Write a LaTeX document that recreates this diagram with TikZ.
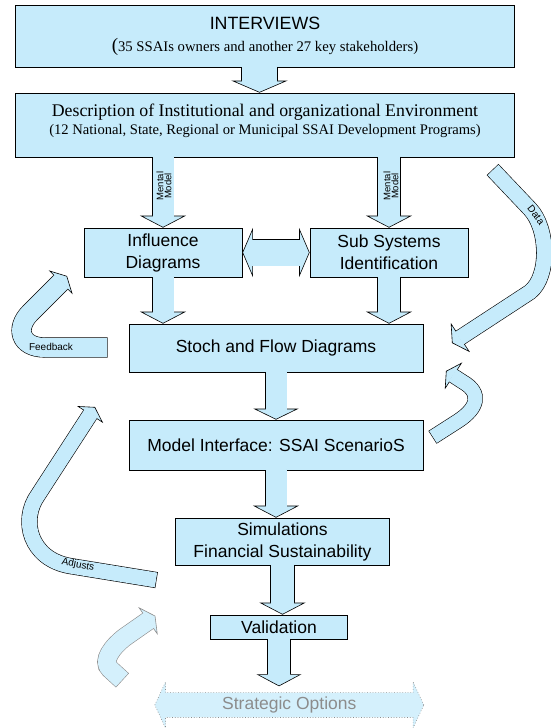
\documentclass[tikz,border=0pt]{standalone}
\usepackage{fontspec}
\setmainfont{Liberation Serif}
\setsansfont{Liberation Sans}
\usetikzlibrary{arrows.meta,shapes.arrows}
\definecolor{boxfill}{RGB}{198,235,251}
\colorlet{edge}{black}

\begin{document}
\begin{tikzpicture}[x=1pt, y=-1pt]

\tikzstyle{every node} = [rectangle, draw, line width=0.7pt, fill=boxfill, inner sep=0pt, align=center, font=\sffamily\fontsize{17.5}{22}\selectfont]
\tikzstyle{lbl} = [draw=none, fill=none, font=\sffamily\fontsize{10}{10}\selectfont]
\tikzset{fat/.style n args={3}{draw=boxfill, line width=#1, line join=round, shorten >=#3-1.2pt,
    preaction={draw=edge, line width=#1+1.2pt, shorten <=-0.6pt, shorten >=0pt,
      -{Triangle[length=#3, width=#2, line width=0.6pt, fill=boxfill]}}},
  fatboth/.style n args={3}{draw=boxfill, line width=#1, shorten >=#3-1.2pt, shorten <=#3-1.2pt,
    preaction={draw=edge, line width=#1+1.2pt, shorten <=0pt, shorten >=0pt,
      {Triangle[length=#3, width=#2, line width=0.6pt, fill=boxfill]}-{Triangle[length=#3, width=#2, line width=0.6pt, fill=boxfill]}}}}

\useasboundingbox (0,0) rectangle (550,728);

\node[minimum width=499pt, minimum height=62pt] (int) at (265,36) {{\fontsize{17.8}{21}\selectfont INTERVIEWS}\\{\rmfamily\fontsize{14.7}{16}\selectfont{\fontsize{19}{16}\selectfont(}35 SSAIs owners and another 27 key stakeholders)\rule[-3pt]{0pt}{0pt}}};
\node[minimum width=499pt, minimum height=64pt, font=\rmfamily\fontsize{17.8}{18.5}\selectfont] (desc) at (265,125) {Description of Institutional and organizational Environment\\{\fontsize{14.6}{16}\selectfont (12 National, State, Regional or Municipal SSAI Development Programs)\rule[-12pt]{0pt}{0pt}}};

\node[minimum width=158pt, minimum height=49pt] (infl) at (163,252.5) {Influence\\Diagrams};
\node[minimum width=158pt, minimum height=49pt] (subs) at (389,252.5) {Sub Systems\\Identification};

\node[minimum width=294pt, minimum height=48pt] (stoch) at (276,348) {Stoch and Flow Diagrams};
\node[minimum width=294pt, minimum height=50pt] (model) at (276,445) {Model Interface: SSAI ScenarioS};
\node[minimum width=214pt, minimum height=47pt] (sim) at (282.5,541.5) {Simulations\\Financial Sustainability};
\node[minimum width=137pt, minimum height=24pt] (val) at (279,627) {Validation};

\node[double arrow, draw=black!45, dotted, line width=0.6pt, fill=boxfill!75!white, text=black!45, minimum height=269pt, double arrow head extend=10.5pt, double arrow tip angle=130, inner xsep=0pt, inner ysep=4pt] (strat) at (289.3,705) {Strategic Options};
\coordinate (stratin) at ([yshift=6pt]strat.north);

\draw[fat={35pt}{56pt}{12pt}] ([xshift=-5.5pt]int.south) -- ([xshift=-5.5pt]desc.north);
\draw[fat={21pt}{46pt}{12pt}] (desc.south -| infl.north) -- (infl.north);
\draw[fat={22pt}{46pt}{12pt}] (desc.south -| subs.north) -- (subs.north);
\draw[fatboth={26pt}{49pt}{10.5pt}] (infl.east) -- (subs.west);
\draw[fat={21pt}{46pt}{12pt}] (infl.south) -- (infl.south |- stoch.north);
\draw[fat={22pt}{46pt}{12pt}] (subs.south) -- (subs.south |- stoch.north);
\draw[fat={21pt}{45pt}{11pt}] (stoch.south) -- (model.north);
\draw[fat={21pt}{46pt}{12pt}] (model.south) -- (model.south |- sim.north);
\draw[fat={23pt}{46pt}{12pt}] (sim.south) -- (sim.south |- val.north);
\draw[fat={22pt}{45pt}{12pt}] (val.south) -- (val.south |- stratin);

\coordinate (dat1) at (493,170);
\coordinate (dat2) at (452,343);
\draw[fat={15pt}{35pt}{10pt}] (dat1) -- (530,209) .. controls (548,228) and (550,276) .. (530,292) -- (dat2);

\coordinate (fb1) at (107,347.5);
\coordinate (fb2) at (67,276);
\draw[fat={19pt}{34pt}{9pt}] (fb1) -- (45,347.5) .. controls (20,347.5) and (15,328) .. (30,313) -- (fb2);

\coordinate (lp1) at (433,437);
\coordinate (lp2) at (446,371);
\draw[fat={14pt}{32pt}{9pt}] (lp1) -- (458,421) .. controls (478,408) and (482,393) .. (463,382) -- (lp2);

\coordinate (ad1) at (156,580);
\coordinate (ad2) at (95,407);
\draw[fat={15pt}{31pt}{9pt}] (ad1) -- (70,566) .. controls (30,559) and (20,520) .. (38,495) -- (ad2);

\begin{scope}
\colorlet{edge}{black!45}
\colorlet{boxfill}{boxfill!75!white}
\coordinate (bt1) at (122,680);
\coordinate (bt2) at (155.3,615.8);
\draw[fat={18pt}{34pt}{9pt}] (bt1) -- (110,669) .. controls (101,661) and (113,646) .. (125,637) -- (bt2);
\end{scope}

\node[lbl, rotate=90, font=\sffamily\fontsize{9.5}{8}\selectfont] (mm1) at (164,186) {Mental\\Model};
\node[lbl, rotate=90, font=\sffamily\fontsize{9.5}{8}\selectfont] (mm2) at (391,186) {Mental\\Model};
\node[lbl] (fbt) at (51,347) {Feedback};
\node[lbl, rotate=-52] (dtt) at (536,215) {Data};
\node[lbl, rotate=-11] (adt) at (78,565) {Adjusts};

\end{tikzpicture}
\end{document}
